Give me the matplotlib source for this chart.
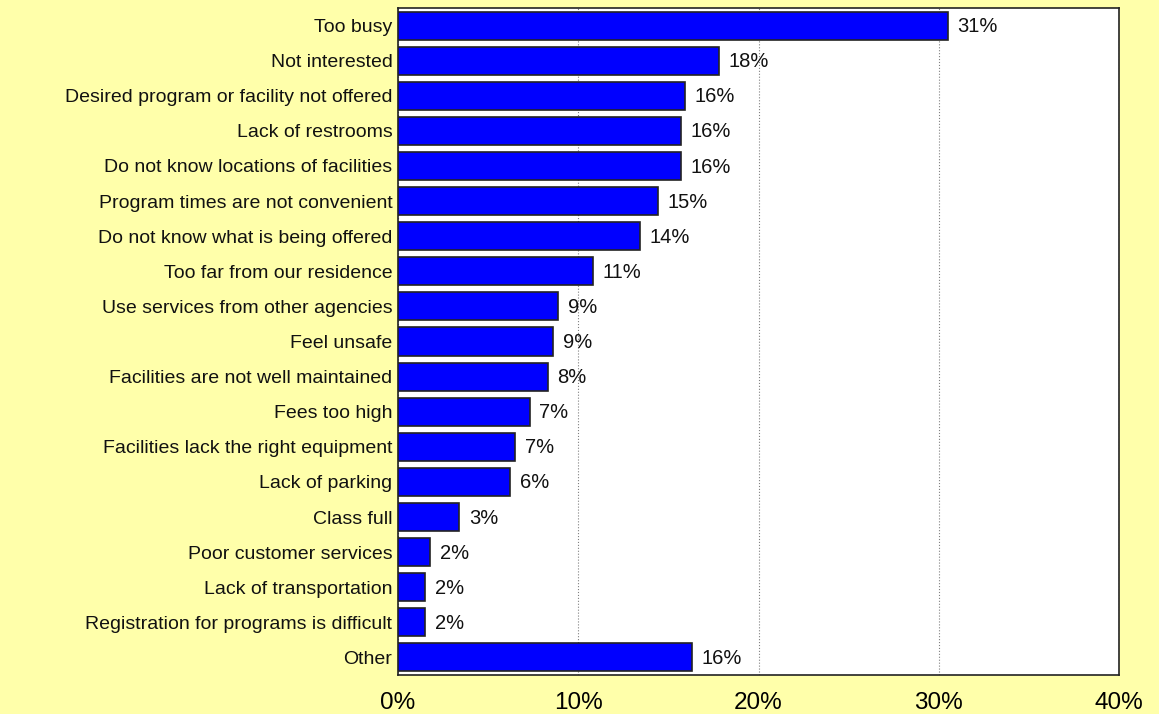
import matplotlib.pyplot as plt
from matplotlib.ticker import FuncFormatter

plt.rcParams['font.family'] = ['Liberation Sans', 'DejaVu Sans']

# Reasons for not using facilities/programs (top to bottom)
reasons = ['Too busy', 'Not interested', 'Desired program or facility not offered',
           'Lack of restrooms', 'Do not know locations of facilities',
           'Program times are not convenient', 'Do not know what is being offered',
           'Too far from our residence', 'Use services from other agencies',
           'Feel unsafe', 'Facilities are not well maintained', 'Fees too high',
           'Facilities lack the right equipment', 'Lack of parking', 'Class full',
           'Poor customer services', 'Lack of transportation',
           'Registration for programs is difficult', 'Other']
values = [30.5, 17.8, 15.9, 15.7, 15.7, 14.4, 13.4, 10.8, 8.9, 8.6,
          8.3, 7.3, 6.5, 6.2, 3.4, 1.8, 1.5, 1.5, 16.3]
labels = ['31%', '18%', '16%', '16%', '16%', '15%', '14%', '11%', '9%', '9%',
          '8%', '7%', '7%', '6%', '3%', '2%', '2%', '2%', '16%']

bg = '#FFFFAA'
fig = plt.figure(figsize=(11.59, 7.14), dpi=100, facecolor=bg)
ax = fig.add_axes([398 / 1159, 1 - 675 / 714, 721 / 1159, 667 / 714])
ax.set_facecolor('white')

pos = list(range(len(reasons)))
ax.barh(pos, values, height=0.8, color='#0000FF', edgecolor='#222222',
        linewidth=1.2, zorder=3)

for p, v, lab in zip(pos, values, labels):
    ax.text(v + 0.55, p + 0.03, lab, va='center', ha='left', fontsize=14.5,
            color='#111111', zorder=4)

ax.set_xlim(0, 40)
ax.set_ylim(len(reasons) - 0.5, -0.5)
ax.set_yticks(pos)
ax.set_yticklabels(reasons, fontsize=14, color='#111111')
ax.set_xticks([0, 10, 20, 30, 40])
ax.xaxis.set_major_formatter(FuncFormatter(lambda x, _: f'{x:.0f}%'))
ax.tick_params(axis='x', length=0, labelsize=17.5, pad=12)
ax.tick_params(axis='y', length=0, pad=4)

ax.grid(axis='x', color='#808080', linestyle=':', linewidth=0.8, zorder=0)
for s in ax.spines.values():
    s.set_color('#222222')
    s.set_linewidth(1.2)

fig.savefig('out.png', dpi=100, facecolor=bg)
